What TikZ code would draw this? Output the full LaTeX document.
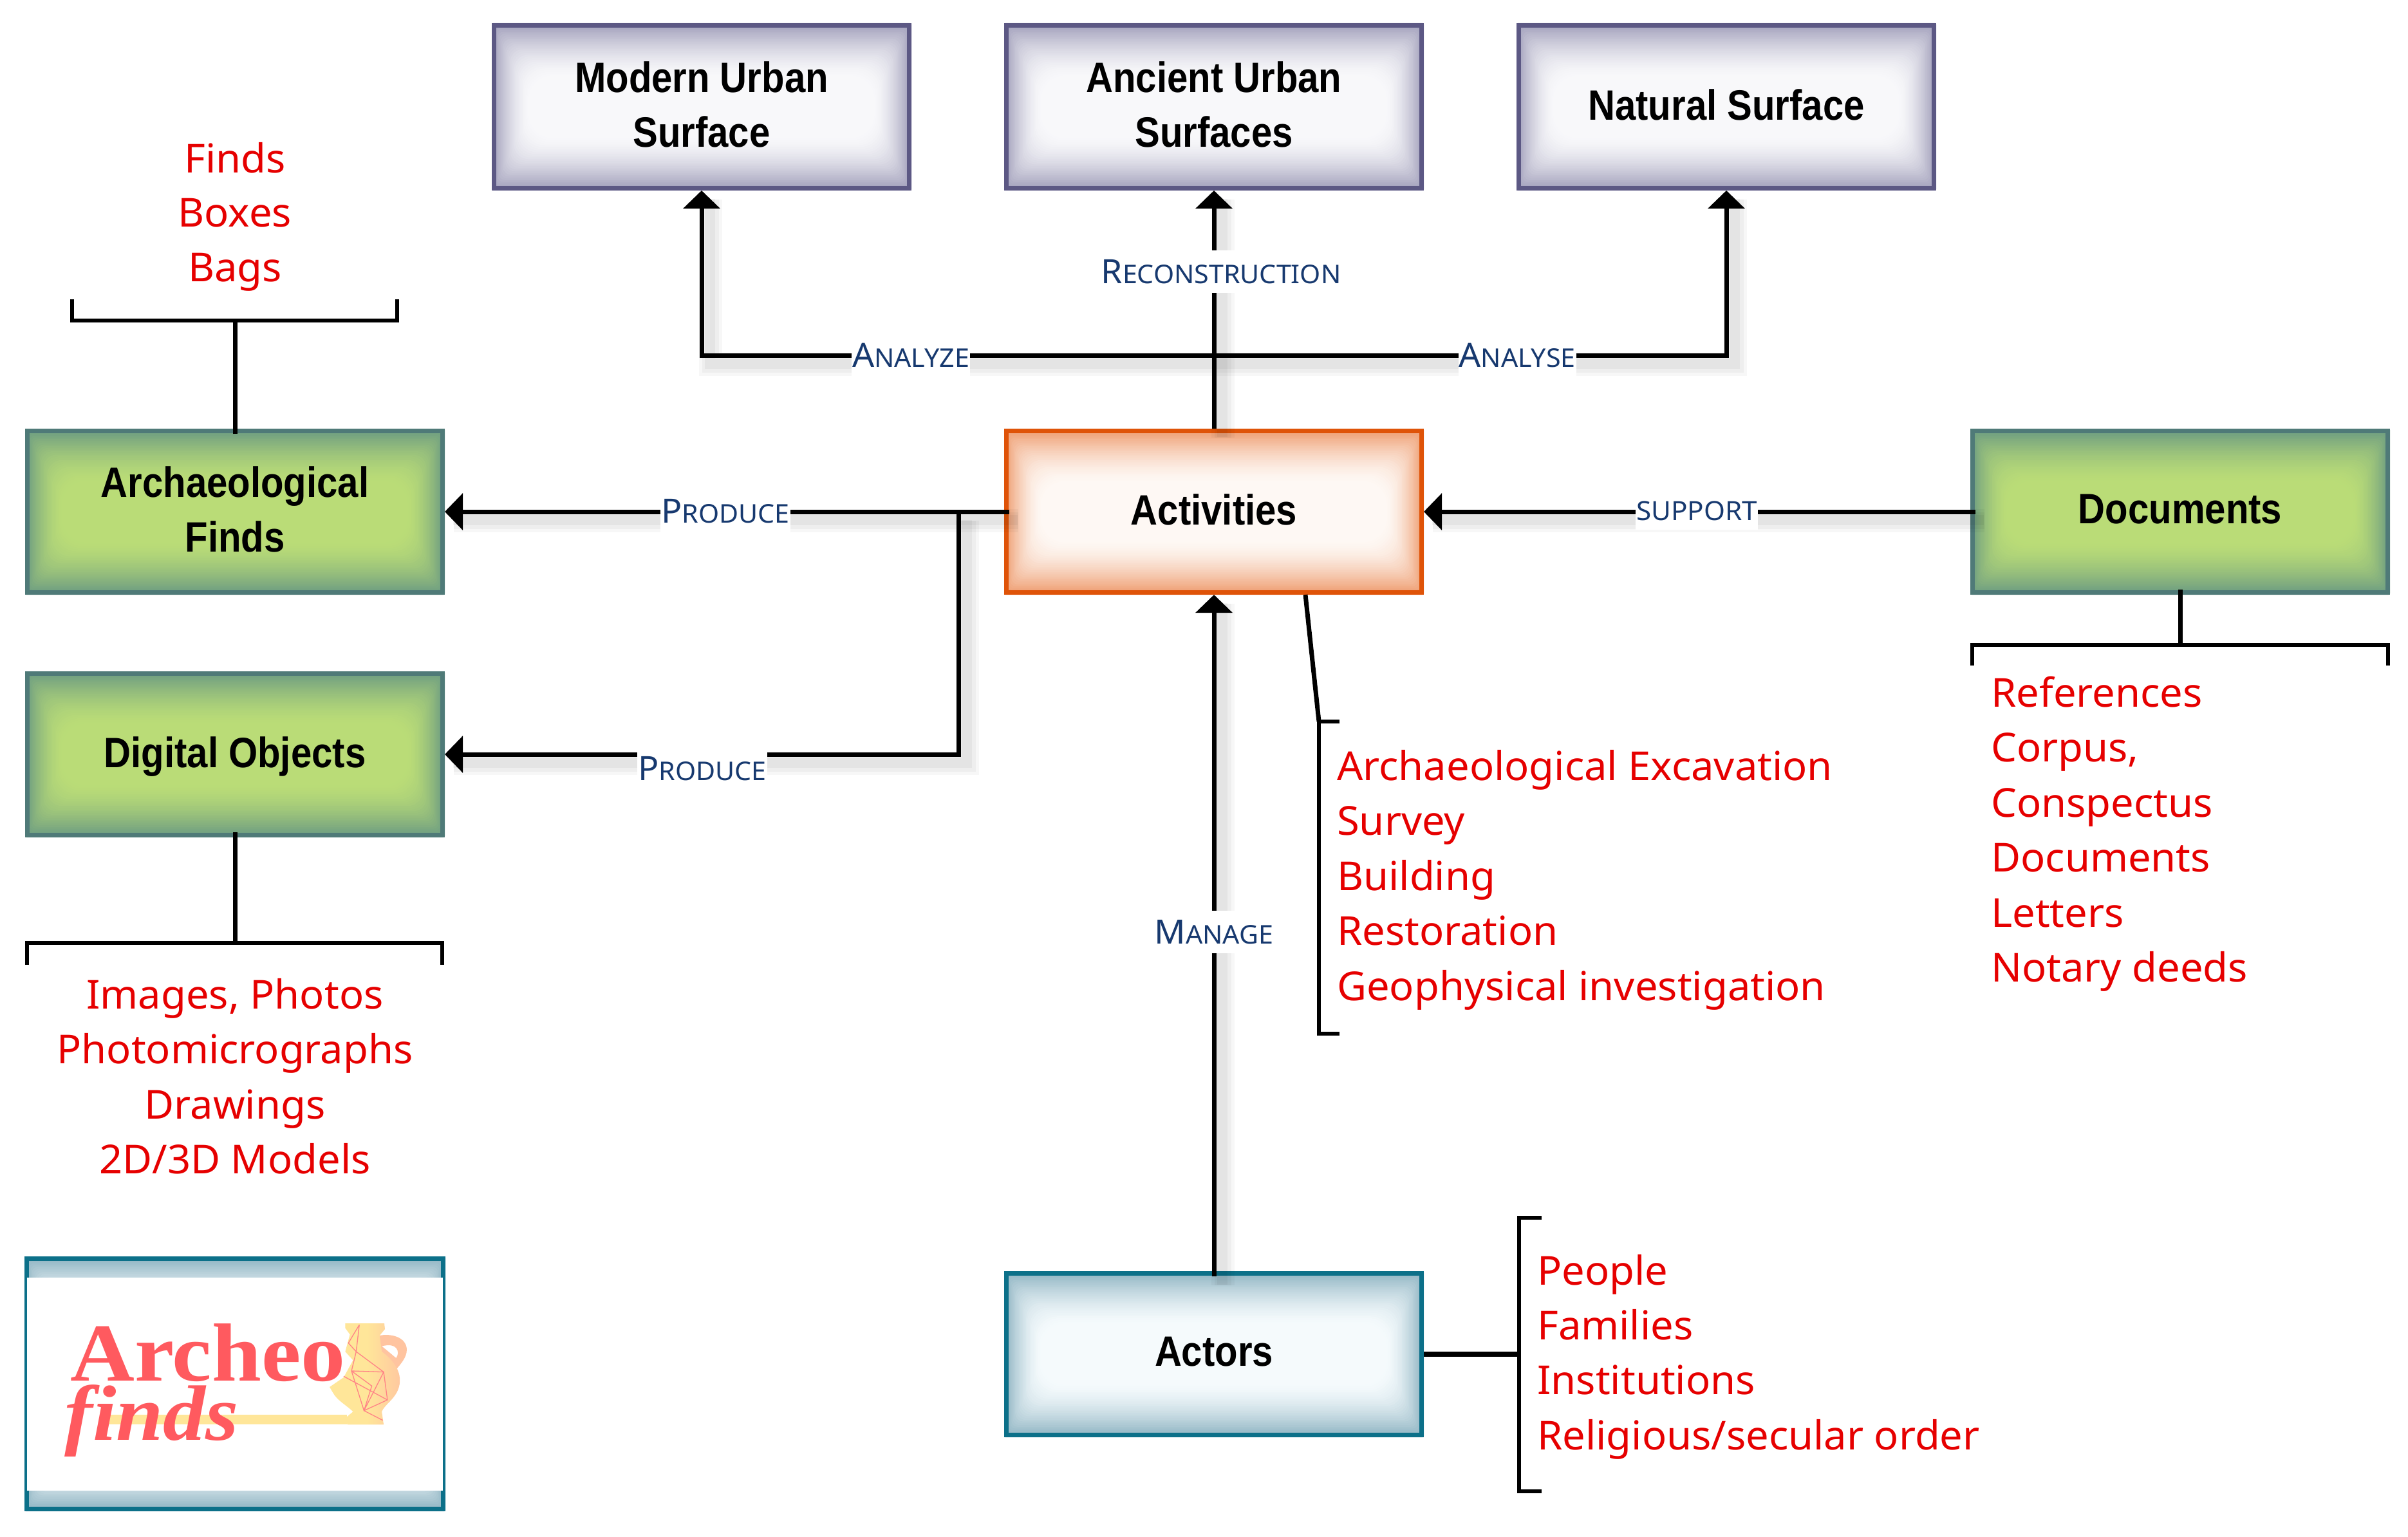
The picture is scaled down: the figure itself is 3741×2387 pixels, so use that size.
\documentclass[tikz,border=0pt]{standalone}
\usepackage{fontspec}
\usetikzlibrary{arrows.meta}
\newfontfamily\boxfont[FakeStretch=0.88]{Liberation Sans}
\newfontfamily\redfont[FakeStretch=1.02]{Noto Sans}
\newfontfamily\lblfont[FakeStretch=1.03]{Noto Sans}
\newfontfamily\logofont[FakeStretch=1.08]{Liberation Serif}
\definecolor{redtxt}{HTML}{E60000}
\definecolor{lblblue}{HTML}{17396F}
\definecolor{purpE}{HTML}{5C5884}\definecolor{purpG}{HTML}{9F9DB9}\definecolor{purpC}{HTML}{F9F9FB}
\definecolor{greenE}{HTML}{4F7A78}\definecolor{greenG}{HTML}{6A9A82}\definecolor{greenC}{HTML}{BBDD77}
\definecolor{oranE}{HTML}{DF5308}\definecolor{oranG}{HTML}{EE9A6C}\definecolor{oranC}{HTML}{FEF9F5}
\definecolor{tealE}{HTML}{0C7089}\definecolor{tealG}{HTML}{8CB2C1}\definecolor{tealC}{HTML}{F6FBFD}
\definecolor{logoR}{HTML}{FF5A5F}\definecolor{logoY}{HTML}{FFE699}\definecolor{logoO}{HTML}{FFC4A0}
\newcommand{\smc}[2]{{\fontsize{52}{52}\selectfont #1}{\fontsize{40}{40}\selectfont #2}}
% name, cx, cy, w, h, edge, glow, centre, text
\newcommand{\glowbox}[9]{%
  \foreach \i [evaluate=\i as \p using {int(100*(1-(1-\i/31)^1.6))}] in {0,...,30}{
    \fill[#8!\p!#7,rounded corners={2pt+\i*1.2pt}]
      ({#2-#4/2+\i*1.9},{#3-#5/2+\i*2.7}) rectangle ({#2+#4/2-\i*1.9},{#3+#5/2-\i*2.7});
  }
  \node[boxnode,draw=#6,minimum width={(#4-7)*1pt},minimum height={(#5-7)*1pt}] (#1) at (#2,#3) {};
  \node[boxtext] (#1text) at (#2,{#3-3.5}) {#9};
}
\tikzset{
  boxnode/.style={rectangle,line width=7pt,inner sep=0pt,outer sep=3.5pt},
  boxtext/.style={inner sep=0pt,align=center,
    font=\boxfont\bfseries\fontsize{66}{85}\selectfont,text=black},
  softshadow/.style={
    preaction={draw=black,arrows=-,opacity=.03,line width=36pt,transform canvas={xshift=14pt,yshift=-14pt}},
    preaction={draw=black,arrows=-,opacity=.035,line width=26pt,transform canvas={xshift=14pt,yshift=-14pt}},
    preaction={draw=black,arrows=-,opacity=.04,line width=16pt,transform canvas={xshift=13pt,yshift=-13pt}}},
  conn/.style={line width=7pt,draw=black,line join=miter},
  arrowline/.style={conn,softshadow,-{Triangle[length=28pt,width=56pt]}},
  bracket/.style={line width=6.5pt,draw=black,line join=miter},
  lbl/.style={fill=white,inner xsep=1pt,inner ysep=14pt,text=lblblue,font=\lblfont},
  redline/.style={text=redtxt,inner sep=0pt,font=\redfont\fontsize{62}{62}\selectfont},
}
\begin{document}
\begin{tikzpicture}[x=1pt,y=-1pt]
\useasboundingbox (0,0) rectangle (3741,2387);
\fill[white] (0,0) rectangle (3741,2387);

\glowbox{modern}{1090}{166}{652}{260}{purpE}{purpG}{purpC}{Modern Urban\\Surface}
\glowbox{ancient}{1886}{166}{652}{260}{purpE}{purpG}{purpC}{Ancient Urban\\Surfaces}
\glowbox{natural}{2682}{166}{652}{260}{purpE}{purpG}{purpC}{Natural Surface}
\glowbox{activities}{1886}{795}{652}{258}{oranE}{oranG}{oranC}{Activities}
\glowbox{archfinds}{365}{795}{652}{258}{greenE}{greenG}{greenC}{Archaeological\\Finds}
\glowbox{digital}{365}{1172}{652}{258}{greenE}{greenG}{greenC}{\raisebox{0pt}[\dimexpr\height+14pt\relax]{Digital Objects}}
\glowbox{documents}{3387}{795}{652}{258}{greenE}{greenG}{greenC}{Documents}
\glowbox{actors}{1886}{2104}{652}{258}{tealE}{tealG}{tealC}{Actors}
\glowbox{logobox}{365}{2150}{654}{396}{tealE}{tealG}{tealC}{}

% logo
\fill[white] (42,1985) rectangle (688,2316);
\fill[logoY] (160,2198) rectangle (539,2213);
\begin{scope}[shift={(0,1900)},x=0.4854pt,y=-0.3333pt]
  \path[fill=logoO,even odd rule] (1215,525) .. controls (1250,515) and (1300,530) .. (1302,590)
     .. controls (1302,630) and (1280,660) .. (1270,680) -- (1215,650) -- cycle
     (1222,575) .. controls (1240,595) and (1255,615) .. (1268,630) .. controls (1282,600) and (1270,555) .. (1222,575) -- cycle;
  \path[left color=logoY,right color=logoO,middle color=logoY]
     (1105,468) -- (1230,468) -- (1232,495) -- (1215,525) -- (1222,600)
     .. controls (1270,650) and (1295,720) .. (1270,790)
     .. controls (1255,830) and (1230,850) .. (1222,880) -- (1228,940) -- (1112,940) -- (1105,910) -- (1130,880)
     .. controls (1110,850) and (1080,830) .. (1065,790) -- (1055,765) -- (1100,720) -- (1130,640) -- (1105,600) -- (1120,520) -- (1105,490) -- cycle;
  \draw[line width=1.3pt,draw=logoR!75] (1150,475) -- (1115,560) -- (1140,600) -- (1228,695) -- (1165,875) -- (1225,920)
     (1150,475) -- (1140,600) -- (1125,690) -- (1228,695) -- (1240,825) -- (1165,875) -- (1125,690)
     (1100,715) -- (1240,825) (1125,690) -- (1190,760) -- (1165,875);
\end{scope}
\node[anchor=base west,inner sep=0pt,text=logoR,font=\logofont\bfseries\fontsize{128}{128}\selectfont] (logoa) at (109,2145) {Archeo};
\node[anchor=base west,inner sep=0pt,text=logoR,font=\logofont\bfseries\itshape\fontsize{122}{122}\selectfont] (logof) at (100,2237) {finds};

% connectors
\coordinate (hubtop) at (1886,552);
\coordinate (cmod) at (modern.south |- hubtop);
\coordinate (cnat) at (natural.south |- hubtop);
\draw[arrowline] (activities.north) -- (ancient.south);
\draw[arrowline] (hubtop) -- (cmod) -- (modern.south);
\draw[arrowline] (hubtop) -- (cnat) -- (natural.south);
\draw[arrowline,shorten <=-8pt] (activities.west) -- (archfinds.east);
\coordinate (csplit) at (1489,795);
\coordinate (cdig) at (csplit |- digital.east);
\draw[arrowline] (csplit) -- (cdig) -- (digital.east);
\draw[arrowline,shorten <=-8pt] (documents.west) -- (activities.east);
\draw[arrowline,shorten <=-8pt] (actors.north) -- (activities.south);

% brackets
\coordinate (fb) at (365,498);
\draw[conn,shorten <=-8pt] (archfinds.north) -- (fb);
\draw[bracket] (112,465) -- (112,498) -- (617,498) -- (617,465);
\coordinate (db) at (365,1465);
\draw[conn,shorten <=-8pt] (digital.south) -- (db);
\draw[bracket] (42,1499) -- (42,1465) -- (687,1465) -- (687,1499);
\coordinate (docb) at (3387,1002);
\draw[conn,shorten <=-8pt] (documents.south) -- (docb);
\draw[bracket] (3064,1034) -- (3064,1002) -- (3710,1002) -- (3710,1034);
\coordinate (actb) at (2049,1121);
\draw[conn] (2028,924) -- (actb);
\draw[bracket] (2081,1121) -- (2049,1121) -- (2049,1606) -- (2081,1606);
\coordinate (actorb) at (2360,2104);
\draw[conn,line width=8pt] (actors.east) -- (actorb);
\draw[bracket] (2395,1892) -- (2360,1892) -- (2360,2317) -- (2395,2317);

% labels
\node[lbl] (lrec) at (1897,422) {\smc{R}{ECONSTRUCTION}};
\node[lbl] (lana) at (1415,552) {\smc{A}{NALYZE}};
\node[lbl] (lans) at (2357,552) {\smc{A}{NALYSE}};
\node[lbl] (lpr1) at (1127,794) {\smc{P}{RODUCE}};
\node[lbl] (lpr2) at (1091,1194) {\smc{P}{RODUCE}};
\node[lbl] (lsup) at (2636,794) {{\fontsize{41}{41}\selectfont SUPPORT}};
\node[lbl] (lman) at (1886,1448) {\smc{M}{ANAGE}};

% red lists
\foreach \t [count=\n from 0] in {Finds,Boxes,Bags}
  \node[redline,anchor=base] (rf\n) at (365,{268+84.5*\n}) {\t};
\foreach \t [count=\n from 0] in {{Images, Photos},Photomicrographs,Drawings,2D/3D Models}
  \node[redline,anchor=base] (rd\n) at (365,{1567+85.5*\n}) {\t};
\foreach \t [count=\n from 0] in {Archaeological Excavation,Survey,Building,Restoration,Geophysical investigation}
  \node[redline,anchor=base west] (ra\n) at (2077,{1212+85.5*\n}) {\t};
\foreach \t [count=\n from 0] in {References,{Corpus,},Conspectus,Documents,Letters,Notary deeds}
  \node[redline,anchor=base west] (rc\n) at (3093,{1098+85.5*\n}) {\t};
\foreach \t [count=\n from 0] in {People,Families,Institutions,Religious/secular order}
  \node[redline,anchor=base west] (rp\n) at (2388,{1996+85.4*\n}) {\t};
\end{tikzpicture}
\end{document}
